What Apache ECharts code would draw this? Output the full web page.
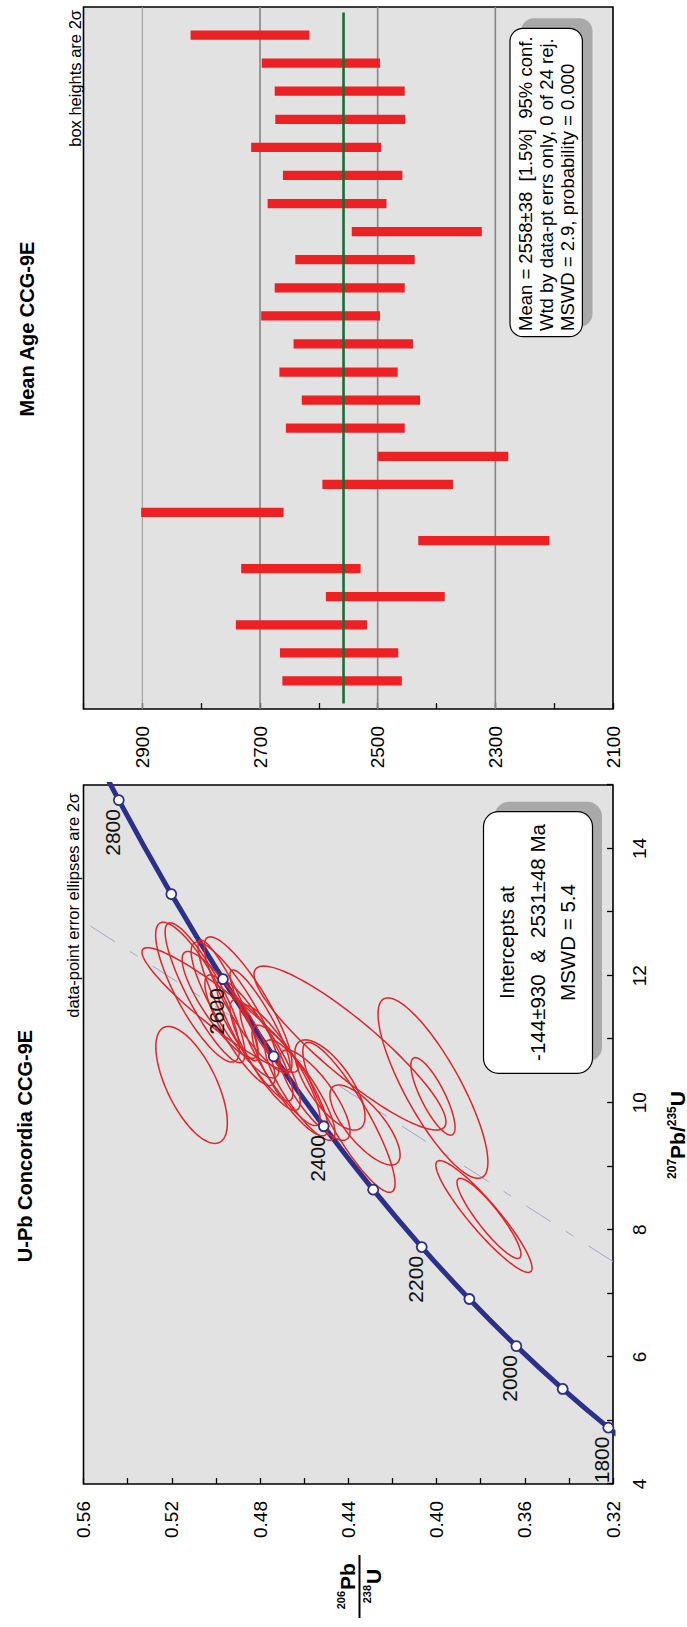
<!DOCTYPE html>
<html>
<head>
<meta charset="utf-8">
<script src="https://cdn.jsdelivr.net/npm/echarts@6/dist/echarts.min.js"></script>
<style>
html,body{margin:0;padding:0;background:#ffffff;overflow:hidden;width:687px;height:1627px;}
#wrap{position:absolute;left:0;top:0;width:1627px;height:687px;transform-origin:0 0;transform:translate(0px,1627px) rotate(-90deg);}
#chart{width:1627px;height:687px;}
</style>
</head>
<body>
<div id="wrap"><div id="chart"></div></div>
<script>
// ---------- Concordia curve (age, 207Pb/235U, 206Pb/238U) ----------
const concAges = [1700, 1800, 1900, 2000, 2100, 2200, 2300, 2400, 2500, 2600, 2700, 2800, 2900];
const conc207  = [4.335, 4.887, 5.496, 6.169, 6.911, 7.729, 8.633, 9.630, 10.730, 11.944, 13.283, 14.762, 16.393];
const conc206  = [0.3017, 0.3221, 0.3428, 0.3638, 0.3851, 0.4067, 0.4287, 0.4511, 0.4738, 0.4968, 0.5202, 0.5440, 0.5681];
const labelAges = [1800, 2000, 2200, 2400, 2600, 2800];

// ---------- Discordia (dashed) end points ----------
const disc207 = [7.50, 12.85];
const disc206 = [0.32, 0.56];

// ---------- Error ellipses (2 sigma) ----------
const ell207  = [10.28, 11.46, 10.86, 10.23, 10.10, 9.77, 8.21, 8.18, 10.28, 9.65,
                 11.74, 11.73, 11.54, 11.46, 11.54, 11.14, 10.98, 10.75, 10.59, 10.35, 10.20, 10.12, 11.61, 11.30];
const ell206  = [0.5110, 0.4981, 0.4392, 0.4016, 0.4016, 0.4397, 0.3785, 0.3762, 0.4483, 0.4324,
                 0.5083, 0.5049, 0.4981, 0.4913, 0.4854, 0.4891, 0.4823, 0.4777, 0.4709, 0.4664, 0.4619, 0.4551, 0.4945, 0.4800];
const ellE207 = [0.92, 0.98, 1.29, 1.42, 0.61, 1.18, 0.88, 0.63, 0.71, 0.63,
                 1.10, 1.10, 0.84, 1.07, 1.07, 0.87, 0.95, 0.87, 0.95, 0.87, 0.79, 0.71, 0.95, 0.79];
const ellE206 = [0.0162, 0.0354, 0.0435, 0.0249, 0.0100, 0.0209, 0.0218, 0.0145, 0.0159, 0.0159,
                 0.0190, 0.0181, 0.0172, 0.0199, 0.0199, 0.0159, 0.0172, 0.0159, 0.0181, 0.0172, 0.0159, 0.0159, 0.0136, 0.0136];
const ellRho  = [0.65, 0.93, 0.90, 0.82, 0.80, 0.88, 0.92, 0.90, 0.70, 0.75,
                 0.82, 0.87, 0.85, 0.86, 0.86, 0.85, 0.88, 0.85, 0.88, 0.85, 0.85, 0.80, 0.90, 0.90];

// ---------- Mean age boxes (Ma, 2 sigma) ----------
const ageLow  = [2459, 2465, 2518, 2386, 2529, 2208, 2660, 2372, 2278, 2454, 2428, 2466,
                 2440, 2496, 2454, 2437, 2323, 2485, 2458, 2494, 2453, 2454, 2496, 2616];
const ageHigh = [2662, 2666, 2741, 2588, 2732, 2431, 2902, 2594, 2500, 2656, 2629, 2667,
                 2643, 2698, 2675, 2640, 2544, 2687, 2661, 2715, 2674, 2675, 2697, 2818];
const meanAge = 2558;
const meanSpan = [0.2, 24.8];
const gridAges = [2300, 2500, 2700, 2900];

const FONT = "'Liberation Sans', Arial, Helvetica, sans-serif";
const NAVY = '#2b318a';
const RED = '#e2232a';

const chart = echarts.init(document.getElementById('chart'), null, {renderer: 'svg'});

function renderEllipse(params, api) {
  const cx = api.value(0), cy = api.value(1), ex = api.value(2), ey = api.value(3), r = api.value(4);
  const s = Math.sqrt(1 - r * r);
  const pts = [];
  const N = 120;
  for (let k = 0; k < N; k++) {
    const t = k / N * Math.PI * 2;
    const c = Math.cos(t), sn = Math.sin(t);
    pts.push(api.coord([cx + ex * c, cy + ey * (r * c + s * sn)]));
  }
  return {type: 'polygon', shape: {points: pts}, style: {fill: 'none', stroke: RED, lineWidth: 1.5}};
}

function renderBar(params, api) {
  const i = api.value(0), lo = api.value(1), hi = api.value(2);
  const p0 = api.coord([i, lo]), p1 = api.coord([i, hi]);
  const w = api.size([1, 0])[0] * 0.33;
  return {type: 'rect', shape: {x: p0[0] - w / 2, y: p1[1], width: w, height: p0[1] - p1[1]}, style: {fill: '#ed2024'}};
}

const tickStyle = {inside: true, length: 6, lineStyle: {color: '#000', width: 1.3}};
const labelBase = {fontSize: 19, fontFamily: FONT, color: '#000'};

const gridLineSeries = gridAges.map((a, k) => ({
  type: 'line', xAxisIndex: 1, yAxisIndex: 1, symbol: 'none', silent: true, z: 1,
  data: [[0, a], [25, a]],
  lineStyle: {color: a === 2900 ? '#9a9a9a' : '#858585', width: a === 2900 ? 1 : 1.6}
}));

const option = {
  animation: false,
  backgroundColor: '#ffffff',
  textStyle: {fontFamily: FONT},
  grid: [
    {left: 143, top: 83.5, width: 699, height: 529.5, show: true, backgroundColor: '#e2e2e2', borderColor: '#000', borderWidth: 1.6, containLabel: false, outerBoundsMode: 'none'},
    {left: 918, top: 83.5, width: 702, height: 529.5, show: true, backgroundColor: '#e2e2e2', borderColor: '#000', borderWidth: 1.6, containLabel: false, outerBoundsMode: 'none'}
  ],
  xAxis: [
    {gridIndex: 0, type: 'value', min: 4, max: 15, interval: 1,
     axisLine: {show: false}, axisTick: tickStyle, splitLine: {show: false},
     axisLabel: Object.assign({margin: 17, formatter: v => (v % 2 === 0 ? String(v) : '')}, labelBase)},
    {gridIndex: 1, type: 'value', min: 0, max: 25, show: false, splitLine: {show: false}}
  ],
  yAxis: [
    {gridIndex: 0, type: 'value', min: 0.32, max: 0.56, interval: 0.02,
     axisLine: {show: false}, axisTick: tickStyle, splitLine: {show: false},
     axisLabel: Object.assign({margin: 17, formatter: v => (Math.round(v * 100) % 4 === 0 ? v.toFixed(2) : '')}, labelBase)},
    {gridIndex: 1, type: 'value', min: 2100, max: 3000, interval: 100,
     axisLine: {show: false}, axisTick: tickStyle, splitLine: {show: false},
     axisLabel: Object.assign({margin: 17, formatter: v => ((Math.round(v) - 2100) % 200 === 0 && v < 3000 ? String(Math.round(v)) : '')}, labelBase)}
  ],
  series: [
    {type: 'line', xAxisIndex: 0, yAxisIndex: 0, symbol: 'none', silent: true, z: 2,
     data: disc207.map((x, i) => [x, disc206[i]]),
     lineStyle: {color: '#a3a3d4', width: 1, type: [29, 18, 9, 18]}},
    {type: 'line', xAxisIndex: 0, yAxisIndex: 0, symbol: 'none', smooth: true, silent: true, z: 3,
     data: conc207.map((x, i) => [x, conc206[i]]),
     lineStyle: {color: NAVY, width: 5}},
    {type: 'custom', xAxisIndex: 0, yAxisIndex: 0, z: 4, clip: true, silent: true,
     renderItem: renderEllipse,
     encode: {x: 0, y: 1},
     data: ell207.map((x, i) => [x, ell206[i], ellE207[i], ellE206[i], ellRho[i]])},
    {type: 'scatter', xAxisIndex: 0, yAxisIndex: 0, z: 5, silent: true, clip: true,
     symbol: 'circle', symbolSize: 10,
     itemStyle: {color: '#ffffff', borderColor: NAVY, borderWidth: 1.8, opacity: 1},
     label: {show: true, position: 'left', distance: 3, verticalAlign: 'bottom', offset: [0, 4],
             fontSize: 21, fontFamily: FONT, color: '#111',
             formatter: p => (labelAges.indexOf(p.value[2]) >= 0 ? String(p.value[2]) : '')},
     data: conc207.map((x, i) => [x, conc206[i], concAges[i]])},
    ...gridLineSeries,
    {type: 'custom', xAxisIndex: 1, yAxisIndex: 1, z: 3, silent: true,
     renderItem: renderBar,
     encode: {x: 0, y: [1, 2]},
     data: ageLow.map((lo, i) => [i + 1, lo, ageHigh[i]])},
    {type: 'line', xAxisIndex: 1, yAxisIndex: 1, symbol: 'none', silent: true, z: 4,
     data: meanSpan.map(x => [x, meanAge]),
     lineStyle: {color: '#1d6b36', width: 2.6}}
  ],
  graphic: [
    // titles
    {type: 'text', x: 481, y: 25, z: 100, style: {text: 'U-Pb Concordia CCG-9E', font: 'bold 20px ' + FONT, fill: '#000', align: 'center', verticalAlign: 'middle'}},
    {type: 'text', x: 1298, y: 27, z: 100, style: {text: 'Mean Age CCG-9E', font: 'bold 20px ' + FONT, fill: '#000', align: 'center', verticalAlign: 'middle'}},
    {type: 'text', x: 834, y: 72.5, z: 100, style: {text: 'data-point error ellipses are 2σ', font: '16.5px ' + FONT, fill: '#000', align: 'right', verticalAlign: 'middle'}},
    {type: 'text', x: 1617, y: 74.5, z: 100, style: {text: 'box heights are 2σ', font: '16.5px ' + FONT, fill: '#000', align: 'right', verticalAlign: 'middle'}},
    // concordia y axis title (fraction)
    {type: 'text', x: 36, y: 341, z: 100, style: {text: '206', font: 'bold 11px ' + FONT, fill: '#000', align: 'right', verticalAlign: 'middle'}},
    {type: 'text', x: 37, y: 347, z: 100, style: {text: 'Pb', font: 'bold 21px ' + FONT, fill: '#000', align: 'left', verticalAlign: 'middle'}},
    {type: 'line', z: 100, shape: {x1: 9, y1: 359.5, x2: 72, y2: 359.5}, style: {stroke: '#000', lineWidth: 2}},
    {type: 'text', x: 42, y: 367, z: 100, style: {text: '238', font: 'bold 11px ' + FONT, fill: '#000', align: 'right', verticalAlign: 'middle'}},
    {type: 'text', x: 43, y: 373, z: 100, style: {text: 'U', font: 'bold 21px ' + FONT, fill: '#000', align: 'left', verticalAlign: 'middle'}},
    // concordia x axis title
    {type: 'text', x: 492, y: 677, z: 100, style: {
      text: '{s|207}{b|Pb/}{s|235}{b|U}', fill: '#000', align: 'center', verticalAlign: 'middle',
      rich: {s: {font: 'bold 12px ' + FONT, verticalAlign: 'top', lineHeight: 22, padding: [0, 0, 8, 0]}, b: {font: 'bold 21px ' + FONT, lineHeight: 22}}}},
    // intercepts box
    {type: 'rect', z: 100, shape: {x: 565.3, y: 494.5, width: 260, height: 107.5, r: 15}, style: {fill: '#a9a9a9'}},
    {type: 'rect', z: 101, shape: {x: 553.7, y: 483.5, width: 261.6, height: 109, r: 15}, style: {fill: '#ffffff', stroke: '#000', lineWidth: 1.2}},
    {type: 'text', x: 684.5, y: 506, z: 102, style: {text: 'Intercepts at', font: '20.5px ' + FONT, fill: '#000', align: 'center', verticalAlign: 'middle'}},
    {type: 'text', x: 684.5, y: 537, z: 102, style: {text: '-144±930  &  2531±48 Ma', font: '20.5px ' + FONT, fill: '#000', align: 'center', verticalAlign: 'middle'}},
    {type: 'text', x: 684.5, y: 567, z: 102, style: {text: 'MSWD = 5.4', font: '20.5px ' + FONT, fill: '#000', align: 'center', verticalAlign: 'middle'}},
    // mean box
    {type: 'rect', z: 100, shape: {x: 1300.3, y: 521, width: 308.4, height: 71.5, r: 13}, style: {fill: '#a9a9a9'}},
    {type: 'rect', z: 101, shape: {x: 1290.3, y: 510, width: 308.4, height: 72.4, r: 13}, style: {fill: '#ffffff', stroke: '#000', lineWidth: 1.2}},
    {type: 'text', x: 1296, y: 525.5, z: 102, style: {text: 'Mean = 2558±38  [1.5%]  95% conf.', font: '18.5px ' + FONT, fill: '#000', align: 'left', verticalAlign: 'middle'}},
    {type: 'text', x: 1296, y: 546, z: 102, style: {text: 'Wtd by data-pt errs only, 0 of 24 rej.', font: '18.5px ' + FONT, fill: '#000', align: 'left', verticalAlign: 'middle'}},
    {type: 'text', x: 1296, y: 567, z: 102, style: {text: 'MSWD = 2.9, probability = 0.000', font: '18.5px ' + FONT, fill: '#000', align: 'left', verticalAlign: 'middle'}}
  ]
};
chart.setOption(option);
</script>
</body>
</html>
